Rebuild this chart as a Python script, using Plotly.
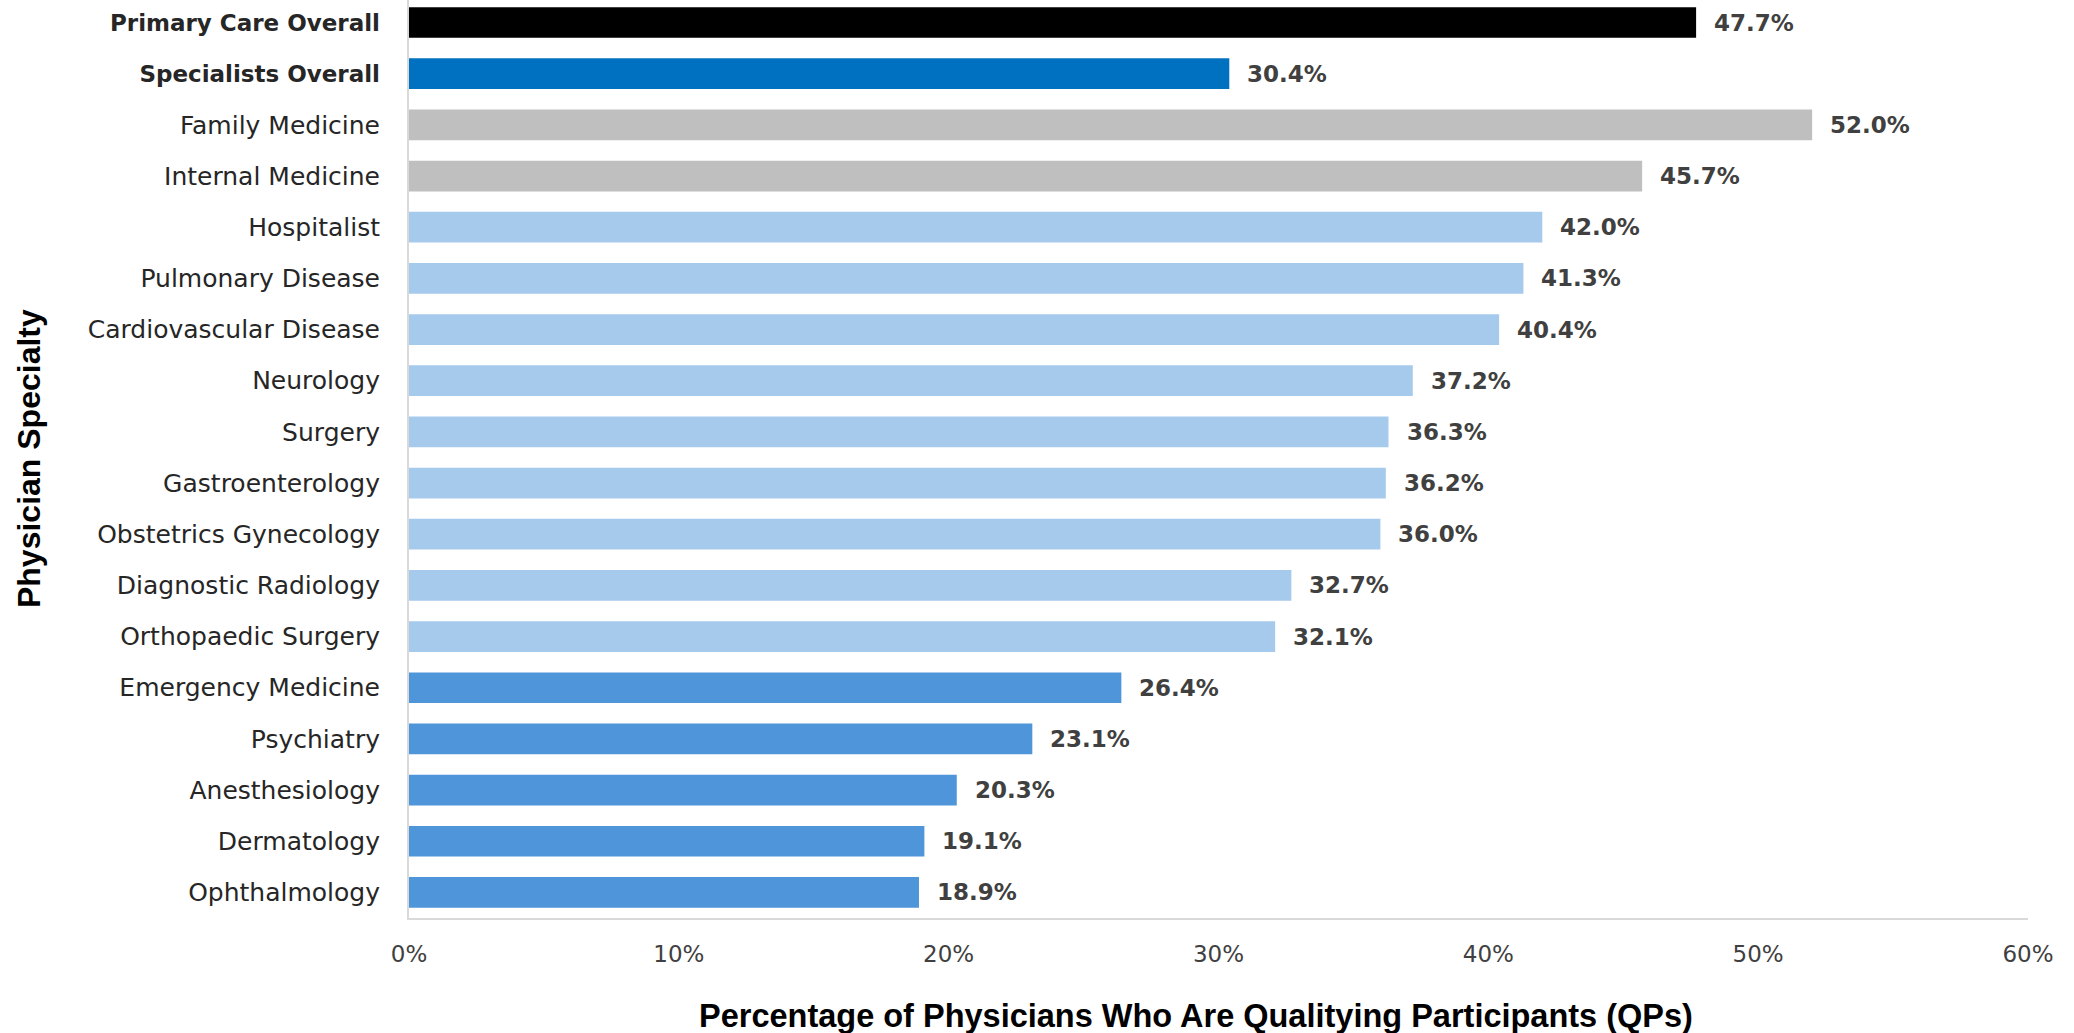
import plotly.graph_objects as go

categories = [
    "Primary Care Overall", "Specialists Overall", "Family Medicine", "Internal Medicine",
    "Hospitalist", "Pulmonary Disease", "Cardiovascular Disease", "Neurology", "Surgery",
    "Gastroenterology", "Obstetrics Gynecology", "Diagnostic Radiology", "Orthopaedic Surgery",
    "Emergency Medicine", "Psychiatry", "Anesthesiology", "Dermatology", "Ophthalmology",
]
values = [47.7, 30.4, 52.0, 45.7, 42.0, 41.3, 40.4, 37.2, 36.3, 36.2, 36.0, 32.7, 32.1,
          26.4, 23.1, 20.3, 19.1, 18.9]
groups = ["primary", "specialists", "pc", "pc",
          "high", "high", "high", "high", "high", "high", "high", "high", "high",
          "low", "low", "low", "low", "low"]
group_colors = {"primary": "#000000", "specialists": "#0070C0", "pc": "#BFBFBF",
                "high": "#A6CAEC", "low": "#4E95D9"}
bold_cats = {"Primary Care Overall", "Specialists Overall"}
x_ticks = [0, 10, 20, 30, 40, 50, 60]
x_tick_labels = ["0%", "10%", "20%", "30%", "40%", "50%", "60%"]
x_title = "Percentage of Physicians Who Are Qualitying Participants (QPs)"
y_title = "Physician Specialty"

tick_text = [f"<span style='font-size:23px'><b>{c}</b></span>" if c in bold_cats else c
             for c in categories]

fig = go.Figure()
fig.add_trace(go.Bar(
    x=values, y=categories, orientation="h",
    marker=dict(color=[group_colors[g] for g in groups], line=dict(width=0)),
    width=0.6, hoverinfo="x+y",
))

for c, v in zip(categories, values):
    fig.add_annotation(x=v, y=c, xref="x", yref="y", text=f"<b>{v:.1f}%</b>",
                       showarrow=False, xanchor="left", yanchor="middle", xshift=16,
                       font=dict(family="DejaVu Sans, sans-serif", size=23, color="#404040"))

fig.add_annotation(text=f"<b>{x_title}</b>", xref="paper", yref="paper",
                   x=0.486, y=-0.107, xanchor="center", yanchor="middle", showarrow=False,
                   font=dict(family="Liberation Sans, Arial, sans-serif", size=32.5, color="#000000"))
fig.add_annotation(text=f"<b>{y_title}</b>", xref="paper", yref="paper",
                   x=-0.2347, y=0.5, xanchor="center", yanchor="middle", showarrow=False,
                   textangle=-90,
                   font=dict(family="Liberation Sans, Arial, sans-serif", size=32, color="#000000"))

fig.update_layout(
    width=2074, height=1033,
    margin=dict(l=409, r=46, t=0, b=115),
    plot_bgcolor="white", paper_bgcolor="white",
    showlegend=False,
)
fig.update_xaxes(
    range=[0, 60], tickvals=x_ticks, ticktext=x_tick_labels,
    showgrid=False, zeroline=False,
    showline=True, linecolor="#D9D9D9", linewidth=2,
    ticks="", ticklabelstandoff=14,
    tickfont=dict(family="DejaVu Sans, sans-serif", size=23, color="#404040"),
)
fig.update_yaxes(
    range=[17.5, -0.44], tickvals=categories, ticktext=tick_text,
    showgrid=False, zeroline=False,
    showline=True, linecolor="#D9D9D9", linewidth=2,
    ticks="", ticklabelstandoff=22,
    tickfont=dict(family="DejaVu Sans, sans-serif", size=25, color="#262626"),
)

fig.write_html("out.html")
